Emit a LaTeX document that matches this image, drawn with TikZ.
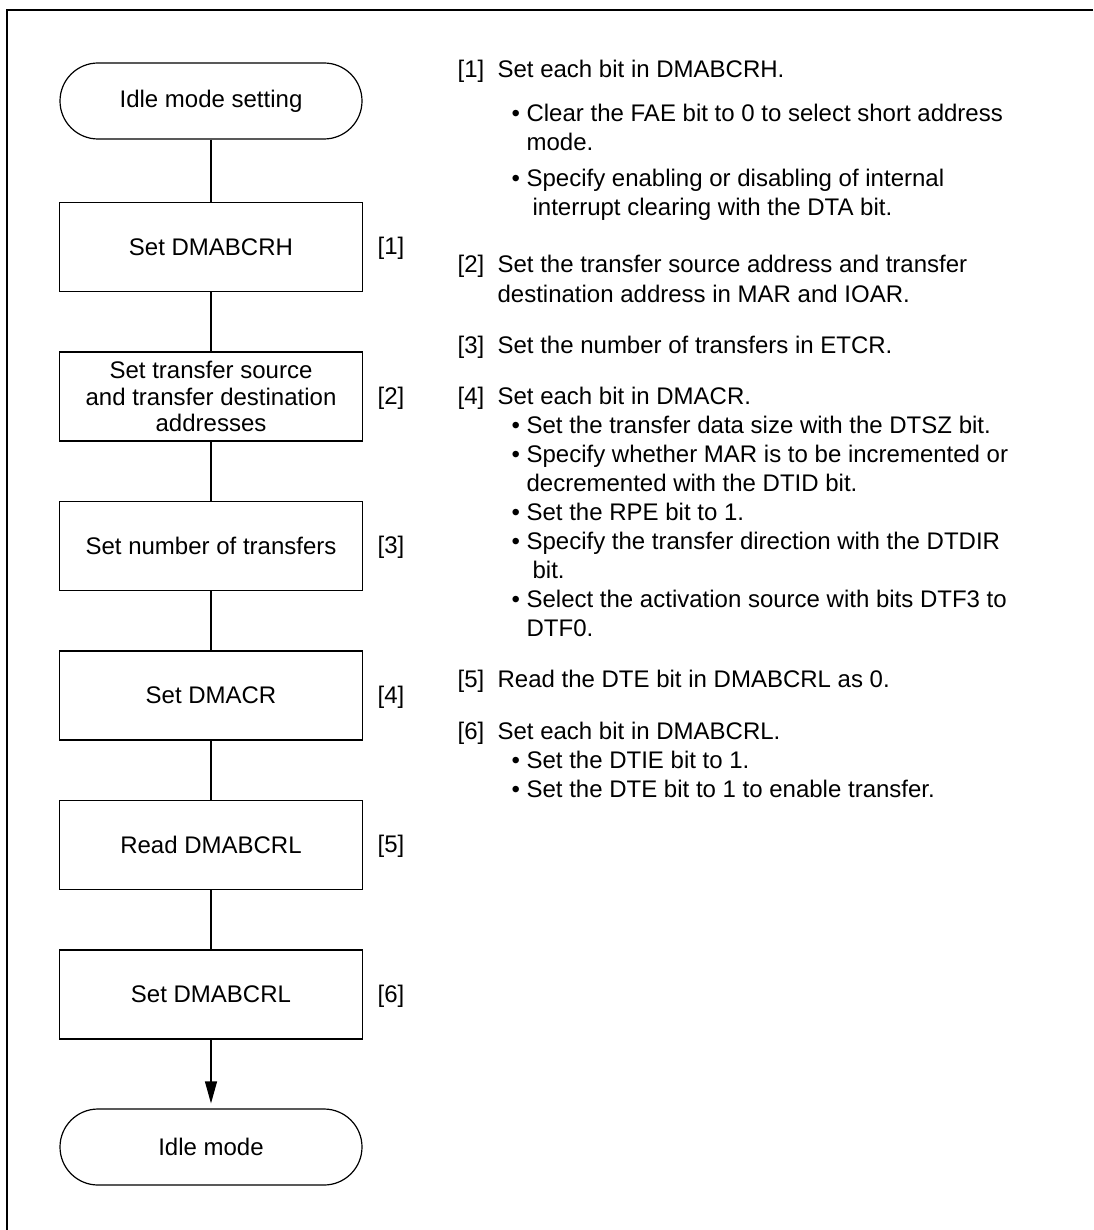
\documentclass[tikz,border=0pt]{standalone}
\usepackage{fontspec}
\setmainfont{Liberation Sans}
\usetikzlibrary{arrows.meta}
\begin{document}
\begin{tikzpicture}[x=1pt,y=-1pt, line width=1.2pt,
  every node/.style={font=\fontsize{24}{26.5}\selectfont},
  term/.style={draw, rounded corners=38pt, minimum width=302pt, minimum height=76pt, inner sep=0pt},
  stepbox/.style={draw, minimum width=303pt, minimum height=89pt, align=center, inner sep=0pt},
  lbl/.style={inner sep=0pt, text height=17pt, text depth=5pt},
  txt/.style={anchor=west, inner sep=0pt, text height=17pt, text depth=5pt},
  conn/.style={line width=1.2pt}]
\useasboundingbox (0,0) rectangle (1093,1230);
\draw (1093,10) -- (7,10) -- (7,1230);
% flowchart
\node[term] (start) at (211,101) {Idle mode setting};
\node[stepbox] (s1) at (211,247) {Set DMABCRH};
\node[stepbox] (s2) at (211,396.5) {Set transfer source\\and transfer destination\\addresses};
\node[stepbox] (s3) at (211,546) {Set number of transfers};
\node[stepbox] (s4) at (211,695.5) {Set DMACR};
\node[stepbox] (s5) at (211,845) {Read DMABCRL};
\node[stepbox] (s6) at (211,994.5) {Set DMABCRL};
\node[term] (end) at (211,1147) {Idle mode};
\draw[conn] (start) -- (s1);
\draw[conn] (s1) -- (s2);
\draw[conn] (s2) -- (s3);
\draw[conn] (s3) -- (s4);
\draw[conn] (s4) -- (s5);
\draw[conn] (s5) -- (s6);
\draw[conn, -{Triangle[length=22pt,width=12pt]}, shorten >=5pt] (s6) -- (end);
% step labels
\node[lbl] (l1) at (391,249) {[1]};
\node[lbl] (l2) at (391,398) {[2]};
\node[lbl] (l3) at (391,547) {[3]};
\node[lbl] (l4) at (391,697) {[4]};
\node[lbl] (l5) at (391,846) {[5]};
\node[lbl] (l6) at (391,996) {[6]};
% descriptions
\def\bul{\makebox[15pt][l]{\textbullet}}
\node[txt] (n1) at (457,72) {[1]};
\node[txt] (t1) at (497,72) {Set each bit in DMABCRH.};
\node[txt] (t1a) at (511,116) {\bul Clear the FAE bit to 0 to select short address};
\node[txt] (t1b) at (526,145) {mode.};
\node[txt] (t1c) at (511,181) {\bul Specify enabling or disabling of internal};
\node[txt] (t1d) at (532,210) {interrupt clearing with the DTA bit.};
\node[txt] (n2) at (457,267) {[2]};
\node[txt] (t2) at (497,267) {Set the transfer source address and transfer};
\node[txt] (t2a) at (497,296) {destination address in MAR and IOAR.};
\node[txt] (n3) at (457,347) {[3]};
\node[txt] (t3) at (497,347) {Set the number of transfers in ETCR.};
\node[txt] (n4) at (457,398) {[4]};
\node[txt] (t4) at (497,398) {Set each bit in DMACR.};
\node[txt] (t4a) at (511,427) {\bul Set the transfer data size with the DTSZ bit.};
\node[txt] (t4b) at (511,456) {\bul Specify whether MAR is to be incremented or};
\node[txt] (t4c) at (526,485) {decremented with the DTID bit.};
\node[txt] (t4d) at (511,514) {\bul Set the RPE bit to 1.};
\node[txt] (t4e) at (511,543) {\bul Specify the transfer direction with the DTDIR};
\node[txt] (t4f) at (532,572) {bit.};
\node[txt] (t4g) at (511,601) {\bul Select the activation source with bits DTF3 to};
\node[txt] (t4h) at (526,630) {DTF0.};
\node[txt] (n5) at (457,681) {[5]};
\node[txt] (t5) at (497,681) {Read the DTE bit in DMABCRL as 0.};
\node[txt] (n6) at (457,733) {[6]};
\node[txt] (t6) at (497,733) {Set each bit in DMABCRL.};
\node[txt] (t6a) at (511,762) {\bul Set the DTIE bit to 1.};
\node[txt] (t6b) at (511,791) {\bul Set the DTE bit to 1 to enable transfer.};
\end{tikzpicture}
\end{document}
